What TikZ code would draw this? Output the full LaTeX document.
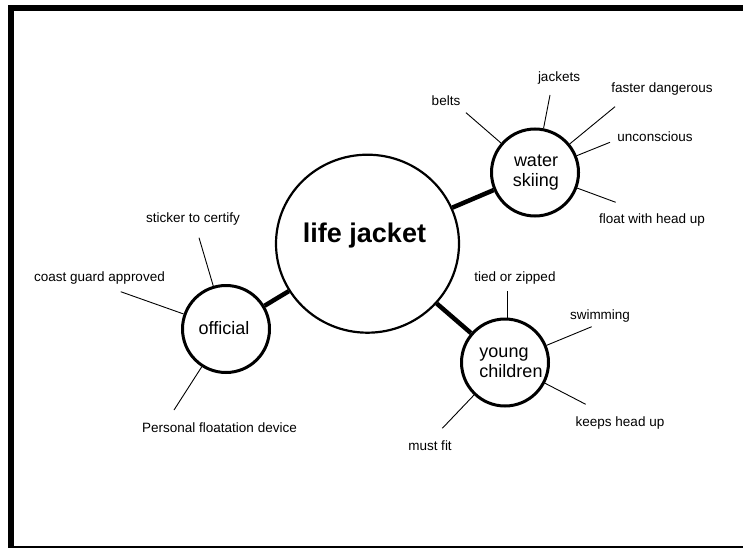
\documentclass[tikz,border=0pt]{standalone}
\usepackage{fontspec}
\setmainfont{Liberation Sans}
\usetikzlibrary{shapes.geometric}
\begin{document}
\begin{tikzpicture}[x=1pt,y=-1pt,
  hub/.style={ellipse, draw, line width=2.2pt, minimum width=183pt, minimum height=178pt, inner sep=0pt},
  topic/.style={circle, draw, line width=3pt, minimum size=87pt, inner sep=0pt},
  hubtext/.style={font=\fontsize{27}{30}\selectfont\bfseries, inner sep=0pt},
  topictext/.style={font=\fontsize{18}{20}\selectfont, inner sep=0pt},
  leaf/.style={font=\fontsize{13.5}{15}\selectfont, inner sep=0pt},
  spoke/.style={line width=4.5pt},
  twig/.style={line width=0.9pt}]
\useasboundingbox (0,0) rectangle (743,548);
% frame
\fill (8,5) rectangle (743,11);
\fill (8,5) rectangle (14,548);
\fill (14,546.2) rectangle (743,547.8);

% circles
\node[hub] (lj) at (367.5,243.7) {};
\node[hubtext] (ljt) at (364.5,236) {life jacket};
\node[topic] (ws) at (535,172.5) {};
\node[topictext, align=center] (wst) at (536,172.5) {water\\skiing};
\node[topic] (of) at (226,329) {};
\node[topictext] (oft) at (224,328) {official};
\node[topic] (yc) at (505,362.5) {};
\node[topictext, align=left] (yct) at (511,363) {young\\children};

% spokes
\draw[spoke] (lj) -- (ws);
\draw[spoke] (lj) -- (of);
\draw[spoke] (lj) -- (yc);

% water skiing leaves
\node[leaf] (belts) at (446,101) {belts};
\node[leaf] (jackets) at (559,78) {jackets};
\node[leaf] (faster) at (662,89) {faster dangerous};
\node[leaf] (uncon) at (655,137) {unconscious};
\node[leaf] (float) at (652,220) {float with head up};
\coordinate (e1) at (466,112.7);
\coordinate (e2) at (550,95);
\coordinate (e3) at (615,106.7);
\coordinate (e4) at (610,142.3);
\coordinate (e5) at (615.7,202.3);
\draw[twig] (ws) -- (e1);
\draw[twig] (ws) -- (e2);
\draw[twig] (ws) -- (e3);
\draw[twig] (ws) -- (e4);
\draw[twig] (ws) -- (e5);

% official leaves
\node[leaf] (sticker) at (193,219) {sticker to certify};
\node[leaf] (coast) at (99.5,278) {coast guard approved};
\node[leaf] (pfd) at (219.5,428) {Personal floatation device};
\coordinate (o1) at (199,237.7);
\coordinate (o2) at (120.7,291.7);
\coordinate (o3) at (174,410);
\draw[twig] (of) -- (o1);
\draw[twig] (of) -- (o2);
\draw[twig] (of) -- (o3);

% young children leaves
\node[leaf] (tied) at (515,278) {tied or zipped};
\node[leaf] (swim) at (600,316) {swimming};
\node[leaf] (keeps) at (620,423) {keeps head up};
\node[leaf] (must) at (430,446) {must fit};
\coordinate (y1) at (507.7,291);
\coordinate (y2) at (591.7,326.7);
\coordinate (y3) at (585.7,404.3);
\coordinate (y4) at (442.3,428.3);
\draw[twig] (yc.north) ++(2.7,0) coordinate (y1s);
\draw[twig] (y1s) -- (y1);
\draw[twig] (yc) -- (y2);
\draw[twig] (yc) -- (y3);
\draw[twig] (yc) -- (y4);
\end{tikzpicture}
\end{document}
